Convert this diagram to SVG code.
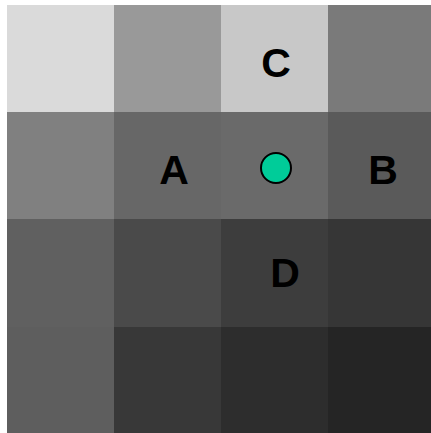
<svg xmlns="http://www.w3.org/2000/svg" width="431" height="433" viewBox="0 0 431 433">
<style>
.lbl{font-family:"Liberation Sans",Arial,sans-serif;font-weight:bold;font-size:41px;fill:#000;text-anchor:middle}
</style>
<rect width="431" height="433" fill="#ffffff"/>
<g id="grid">
<rect x="7" y="5" width="107" height="107" fill="#dadada"/>
<rect x="114" y="5" width="107" height="107" fill="#999999"/>
<rect x="221" y="5" width="107" height="107" fill="#c8c8c8"/>
<rect x="328" y="5" width="107" height="107" fill="#7a7a7a"/>
<rect x="7" y="112" width="107" height="107" fill="#808080"/>
<rect x="114" y="112" width="107" height="107" fill="#676767"/>
<rect x="221" y="112" width="107" height="107" fill="#6a6a6a"/>
<rect x="328" y="112" width="107" height="107" fill="#5a5a5a"/>
<rect x="7" y="219" width="107" height="108" fill="#606060"/>
<rect x="114" y="219" width="107" height="108" fill="#4a4a4a"/>
<rect x="221" y="219" width="107" height="108" fill="#3d3d3d"/>
<rect x="328" y="219" width="107" height="108" fill="#363636"/>
<rect x="7" y="327" width="107" height="107" fill="#5e5e5e"/>
<rect x="114" y="327" width="107" height="107" fill="#383838"/>
<rect x="221" y="327" width="107" height="107" fill="#2d2d2d"/>
<rect x="328" y="327" width="107" height="107" fill="#252525"/>
</g>
<g id="A"><text class="lbl" x="174" y="184">A</text></g>
<g id="B"><text class="lbl" x="383" y="184">B</text></g>
<g id="C"><text class="lbl" x="276" y="77">C</text></g>
<g id="D"><text class="lbl" x="285" y="287">D</text></g>
<g id="point"><circle cx="276" cy="168" r="15" fill="#00cc99" stroke="#000" stroke-width="2"/></g>
<g id="connectors"></g>
</svg>
